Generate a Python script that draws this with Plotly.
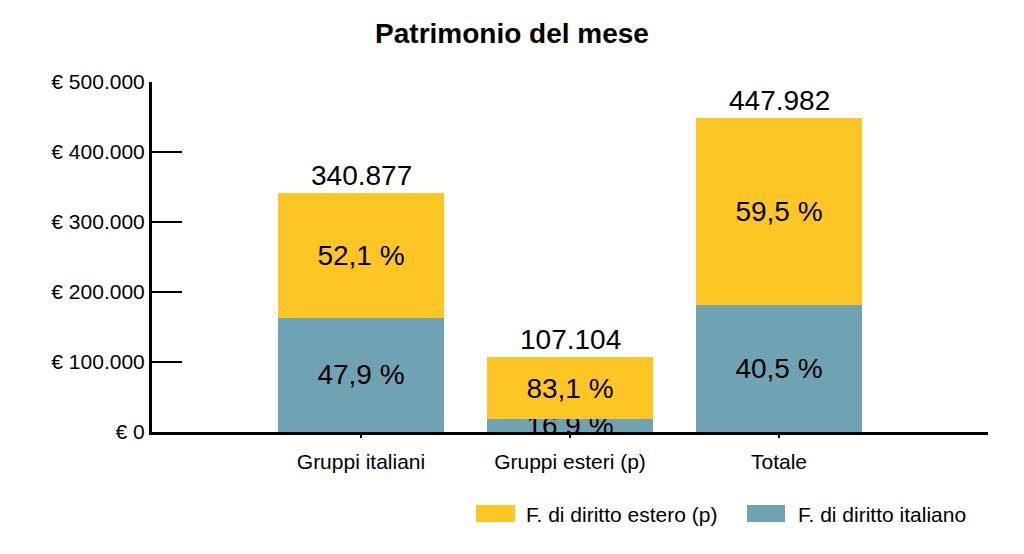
import plotly.graph_objects as go

categories = ["Gruppi italiani", "Gruppi esteri (p)", "Totale"]
series_names = ["F. di diritto italiano", "F. di diritto estero (p)"]
italiano = [163280, 18101, 181433]
estero = [177597, 89003, 266549]
pct_italiano = [47.9, 16.9, 40.5]
pct_estero = [52.1, 83.1, 59.5]
tick_vals = [0, 100000, 200000, 300000, 400000, 500000]
tick_text = ["€ 0", "€ 100.000", "€ 200.000", "€ 300.000", "€ 400.000", "€ 500.000"]

TEAL = "#6fa3b3"
YELLOW = "#fdc624"
FONT = "Liberation Sans, Arial, sans-serif"

def fmt_pct(v):
    return f"{v:.1f}".replace(".", ",") + " %"

def fmt_int(v):
    return f"{v:,}".replace(",", ".")

totals = [a + b for a, b in zip(italiano, estero)]

# page body has an 8px margin; work in page coordinates and offset
OFF = 8
W, H = 1024 - OFF, 554 - OFF
L, R, T, B = 152 - OFF, 1024 - 988, 82 - OFF, 554 - 432
pw, ph = W - L - R, H - T - B

def px(x):
    return (x - OFF - L) / pw

def py(y):
    return (H - B - (y - OFF)) / ph

fig = go.Figure()
fig.add_trace(go.Bar(
    x=categories, y=italiano, name=series_names[0], marker_color=TEAL,
    marker_line_width=0, width=0.79,
    text=[fmt_pct(p) for p in pct_italiano], textposition="inside",
    insidetextanchor="middle", constraintext="none", textangle=0,
    textfont=dict(size=28, color="black", family=FONT),
))
fig.add_trace(go.Bar(
    x=categories, y=estero, name=series_names[1], marker_color=YELLOW,
    marker_line_width=0, width=0.79,
    text=[fmt_pct(p) for p in pct_estero], textposition="inside",
    insidetextanchor="middle", constraintext="none", textangle=0,
    textfont=dict(size=28, color="black", family=FONT),
))

for c, t in zip(categories, totals):
    fig.add_annotation(x=c, y=t, text=fmt_int(t), showarrow=False,
                       yanchor="bottom", yshift=0,
                       font=dict(size=28, color="black", family=FONT))

# manual legend (wide swatches like the reference)
legend_items = [(series_names[1], YELLOW, 476, 515, 524), (series_names[0], TEAL, 747, 785, 796)]
for name, col, x0, x1, tx in legend_items:
    fig.add_shape(type="rect", xref="paper", yref="paper",
                  x0=px(x0), x1=px(x1), y0=py(522), y1=py(505),
                  fillcolor=col, line_width=0)
    fig.add_annotation(xref="paper", yref="paper", x=px(tx), y=py(514),
                       xanchor="left", yanchor="middle", text=name, showarrow=False,
                       font=dict(size=21, color="black", family=FONT))

fig.update_layout(
    width=W, height=H, barmode="stack", showlegend=False,
    margin=dict(l=L, r=R, t=T, b=B),
    paper_bgcolor="white", plot_bgcolor="white",
    font=dict(family=FONT, color="black"),
    title=dict(text="<b>Patrimonio del mese</b>", x=(512 - OFF) / W, xanchor="center",
               y=1 - (33 - OFF) / H, yanchor="middle",
               font=dict(size=28, color="black", family=FONT)),
)
fig.update_xaxes(range=[-1, 3], showline=True, linecolor="black", linewidth=3,
                 showgrid=False, ticks="outside", ticklen=3, tickwidth=2, tickcolor="black",
                 ticklabelstandoff=6,
                 tickfont=dict(size=21, family=FONT, color="black"),
                 zeroline=False)
fig.update_yaxes(range=[0, 500000], showline=True, linecolor="black", linewidth=3,
                 showgrid=False, zeroline=False, tickvals=tick_vals, ticktext=tick_text,
                 ticks="inside", ticklen=30, tickwidth=2, tickcolor="black",
                 tickfont=dict(size=21, family=FONT, color="black"))

fig.write_html("out.html")
